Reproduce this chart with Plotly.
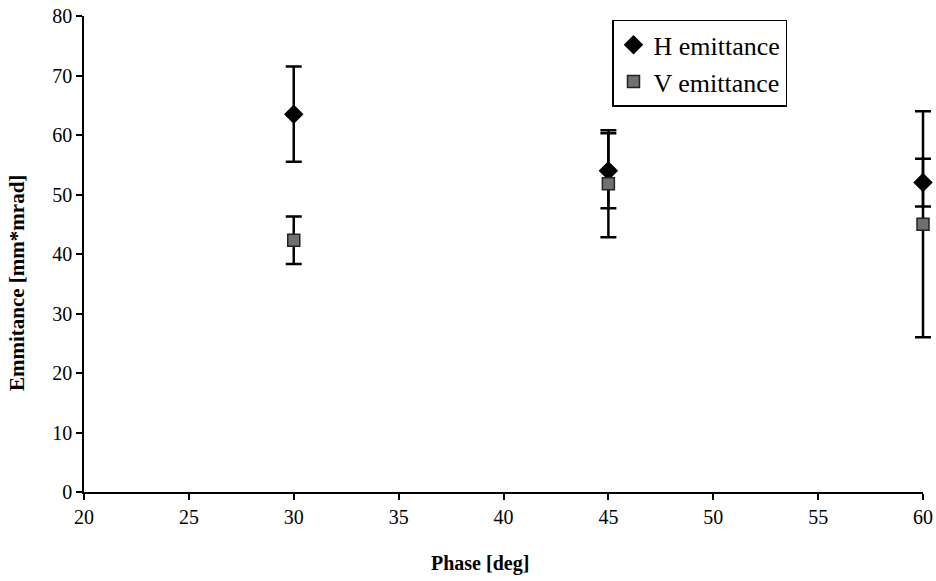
import plotly.graph_objects as go

# Measured emittance versus phase advance
phase = [30, 45, 60]
h_emit = [63.5, 54.0, 52.0]
h_err = [8.0, 6.3, 4.0]
v_emit = [42.3, 51.8, 45.0]
v_err = [4.0, 9.0, 19.0]

x_ticks = [20, 25, 30, 35, 40, 45, 50, 55, 60]
y_ticks = [0, 10, 20, 30, 40, 50, 60, 70, 80]
x_range = [20, 60]
y_range = [0, 80]

SERIF = "Liberation Serif, Times New Roman, serif"

W, H = 936, 581
M_L, M_R, M_T, M_B = 84, 0, 16, 89
PLOT_RIGHT = 923  # right end of the visible x axis, px

# The visible x axis stops short of the figure edge; the data are drawn on a
# hidden axis spanning the full width with the same scale, so the points and
# error bars at 60 deg are not clipped by the axis end.
frac = (PLOT_RIGHT - M_L) / (W - M_L - M_R)
x_data_range = [x_range[0], x_range[0] + (x_range[1] - x_range[0]) / frac]

fig = go.Figure()

fig.add_trace(go.Scatter(
    x=phase, y=h_emit, mode="markers", name="H emittance",
    legendgroup="h", cliponaxis=False, xaxis="x3", yaxis="y",
    marker=dict(symbol="diamond", size=15, color="black"),
    error_y=dict(type="data", array=h_err, visible=True,
                 color="black", thickness=2.5, width=8),
))
fig.add_trace(go.Scatter(
    x=phase, y=v_emit, mode="markers", name="V emittance",
    legendgroup="v", cliponaxis=False, xaxis="x3", yaxis="y",
    marker=dict(symbol="square", size=12, color="#707070",
                line=dict(color="#222", width=1.5)),
    error_y=dict(type="data", array=v_err, visible=True,
                 color="black", thickness=2.5, width=8),
))

# invisible traces so the visible and inner-tick axes get drawn
fig.add_trace(go.Scatter(x=[20], y=[0], xaxis="x", yaxis="y",
                         mode="markers", marker=dict(opacity=0),
                         showlegend=False, hoverinfo="skip"))
fig.add_trace(go.Scatter(x=[20], y=[0], xaxis="x2", yaxis="y2",
                         mode="markers", marker=dict(opacity=0),
                         showlegend=False, hoverinfo="skip"))

axis_common = dict(showgrid=False, zeroline=False, showline=True,
                   linecolor="black", linewidth=1.5, tickcolor="black",
                   tickwidth=1.5, automargin=False)

fig.update_layout(
    width=W, height=H,
    margin=dict(l=M_L, r=M_R, t=M_T, b=M_B),
    paper_bgcolor="white", plot_bgcolor="white",
    font=dict(family=SERIF, color="black"),
    xaxis=dict(range=x_range, domain=[0, frac], anchor="y",
               tickvals=x_ticks, ticks="outside", ticklen=6,
               tickfont=dict(family=SERIF, size=20), **axis_common),
    yaxis=dict(range=y_range, anchor="x", tickvals=y_ticks, ticks="outside",
               ticklen=6, tickfont=dict(family=SERIF, size=20),
               minor=dict(dtick=5, ticks="inside", ticklen=5,
                          tickcolor="black", tickwidth=1.2),
               **axis_common),
    xaxis2=dict(range=x_range, overlaying="x", anchor="y2", side="bottom",
                tickvals=x_ticks, ticks="inside", ticklen=6,
                showticklabels=False, **axis_common),
    yaxis2=dict(range=y_range, overlaying="y", anchor="x2", side="left",
                tickvals=y_ticks, ticks="inside", ticklen=6,
                showticklabels=False, **axis_common),
    xaxis3=dict(range=x_data_range, domain=[0, 1], anchor="y",
                visible=False, showgrid=False, zeroline=False),
    legend=dict(x=(612 - M_L) / (PLOT_RIGHT - M_L) * frac, y=0.992,
                xanchor="left", yanchor="top",
                bgcolor="white", bordercolor="black", borderwidth=1.5,
                font=dict(family=SERIF, size=26), tracegroupgap=0,
                itemwidth=30),
    annotations=[
        dict(text="<b>Phase [deg]</b>", xref="paper", yref="paper",
             x=(480 - M_L) / (W - M_L - M_R), y=0, yshift=-71,
             xanchor="center", yanchor="middle", showarrow=False,
             font=dict(family=SERIF, size=20)),
        dict(text="<b>Emmitance [mm*mrad]</b>", xref="paper", yref="paper",
             x=0, xshift=-67, y=0.439, xanchor="center", yanchor="middle",
             textangle=-90, showarrow=False,
             font=dict(family=SERIF, size=21)),
    ],
)

fig.write_html("out.html")
